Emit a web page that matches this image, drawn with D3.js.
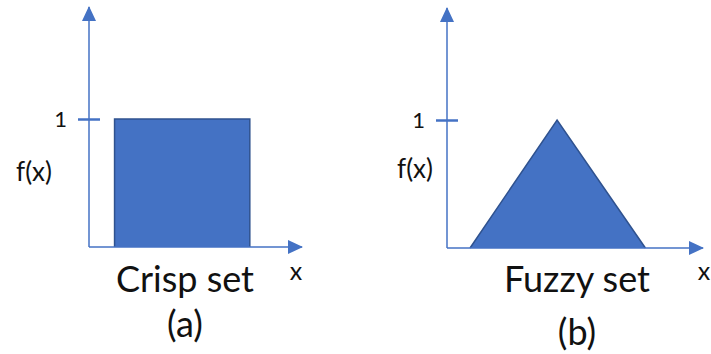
<!DOCTYPE html>
<html>
<head>
<meta charset="utf-8">
<title>Crisp set vs Fuzzy set</title>
<script src="https://d3js.org/d3.v7.min.js"></script>
<style>
  body { margin: 0; background: white; }
  text { font-family: Lato, "Open Sans", sans-serif; fill: #111; }
</style>
</head>
<body>
<svg id="chart" width="711" height="354"></svg>
<script>
// membership functions, x in arbitrary units (axis runs 0..10), f(x) in 0..1
var crispX = [1.2, 1.2, 7.55, 7.55];
var crispF = [0, 1, 1, 0];
var fuzzyX = [0.9, 4.3, 7.75];
var fuzzyF = [0, 1, 0];
var yTicks = [1];
var titles = ["Crisp set", "Fuzzy set"];
var captions = ["(a)", "(b)"];

var blue = "#4472C4", edge = "#2F528F";

var svg = d3.select("#chart");

// arrow head for both axes
svg.append("defs").append("marker")
  .attr("id", "arrow")
  .attr("markerUnits", "userSpaceOnUse")
  .attr("markerWidth", 15).attr("markerHeight", 14)
  .attr("refX", 14).attr("refY", 7)
  .attr("orient", "auto")
  .append("path")
  .attr("d", "M0,0 L15,7 L0,14 Z")
  .attr("fill", blue);

// the two panels
var panels = [
  {x0: 89, x1: 302, y0: 247, pts: crispX.map(function(v, i) { return [v, crispF[i]]; }),
   title: titles[0], tx: 185, ty: 292, cap: captions[0], cy: 337, fx: 34, fy: 181, lx: 296},
  {x0: 447, x1: 703, y0: 248, pts: fuzzyX.map(function(v, i) { return [v, fuzzyF[i]]; }),
   title: titles[1], tx: 577, ty: 292, cap: captions[1], cy: 345, fx: 415, fy: 178, lx: 704}
];

panels.forEach(function(p) {
  var x = d3.scaleLinear().domain([0, 10]).range([p.x0, p.x1]);
  var y = d3.scaleLinear().domain([0, 1]).range([p.y0, p.y0 - 128]);
  var g = svg.append("g");

  // shape
  g.append("path")
    .datum(p.pts)
    .attr("d", d3.line().x(function(d) { return x(d[0]); }).y(function(d) { return y(d[1]); }))
    .attr("fill", blue)
    .attr("stroke", edge)
    .attr("stroke-width", 1.5)
    .attr("stroke-linejoin", "miter");

  // axes with arrows
  g.append("line")
    .attr("x1", x(0)).attr("y1", y(0))
    .attr("x2", x(0)).attr("y2", y(1.875))
    .attr("stroke", blue).attr("stroke-width", 1.5)
    .attr("marker-end", "url(#arrow)");
  g.append("line")
    .attr("x1", x(0)).attr("y1", y(0))
    .attr("x2", x(10)).attr("y2", y(0))
    .attr("stroke", blue).attr("stroke-width", 1.5)
    .attr("marker-end", "url(#arrow)");

  // tick at 1, crossing the axis
  var ax = g.append("g")
    .attr("transform", "translate(" + x(0) + ",0)")
    .call(d3.axisLeft(y).tickValues(yTicks).tickSize(11).tickPadding(11).tickFormat(d3.format("d")));
  ax.select(".domain").remove();
  ax.selectAll(".tick line")
    .attr("x1", -11).attr("x2", 11)
    .attr("stroke", blue).attr("stroke-width", 2.5);
  ax.selectAll(".tick text")
    .style("font-family", "Lato, sans-serif")
    .style("font-size", "22px")
    .attr("fill", "#111");

  // labels
  g.append("text")
    .attr("x", p.fx).attr("y", p.fy)
    .attr("text-anchor", "middle")
    .style("font-size", "26px")
    .text("f(x)");
  g.append("text")
    .attr("x", p.lx).attr("y", 280)
    .attr("text-anchor", "middle")
    .style("font-size", "25px")
    .text("x");
  g.append("text")
    .attr("x", p.tx).attr("y", p.ty)
    .attr("text-anchor", "middle")
    .style("font-size", "36px")
    .text(p.title);
  g.append("text")
    .attr("x", p.tx).attr("y", p.cy)
    .attr("text-anchor", "middle")
    .style("font-size", "36px")
    .text(p.cap);
});
</script>
</body>
</html>
